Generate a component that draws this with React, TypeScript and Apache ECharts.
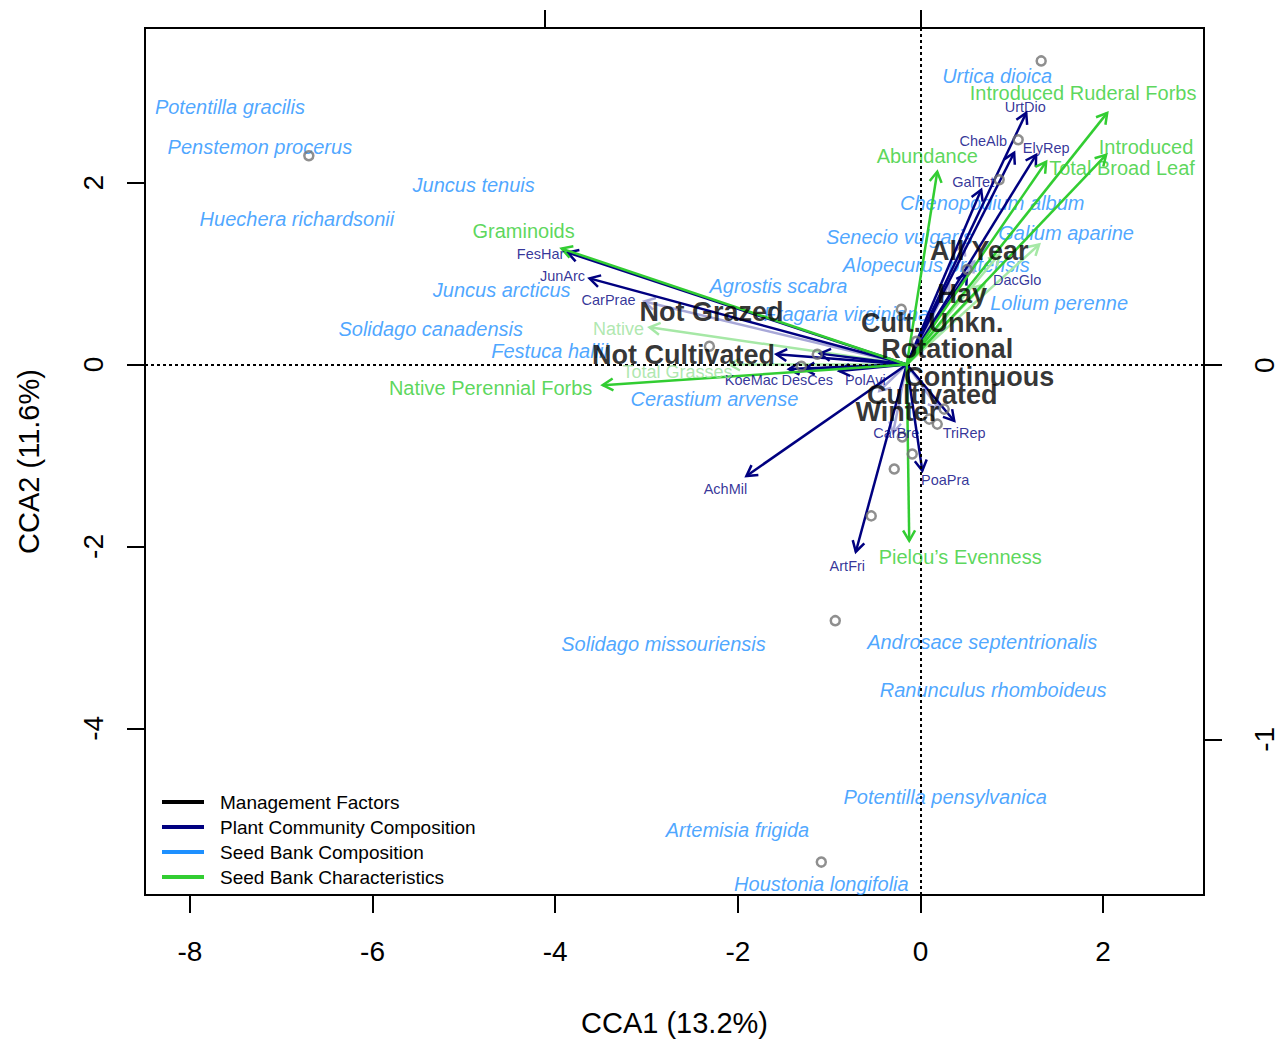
import React, { useEffect, useRef } from "react";
import * as echarts from "echarts";

// ---- axis ranges / ticks ----
const X_MIN = -8.492, X_MAX = 3.105;
const Y_MIN = -5.832, Y_MAX = 3.7;
const X_TICKS = [-8, -6, -4, -2, 0, 2];
const Y_TICKS = [-4, -2, 0, 2];
const X2_MIN = -2.064, X2_MAX = 0.755;
const X2_TICKS = [-1, 0];
const Y2_MIN = -1.416, Y2_MAX = 0.901;
const Y2_TICKS = [-1, 0];
const ARROW_ORIGIN = [-0.15, 0];

// ---- plant community composition (navy arrows) ----
const plantArrows = [
  [1.158, 2.767], [1.026, 2.328], [1.267, 2.306], [0.665, 1.922], [0.51, 1.0],
  [-3.864, 1.232], [-3.624, 0.947], [-1.578, 0.113], [-1.1, 0.12],
  [-1.44, -0.05], [-1.274, -0.05], [-0.89, -0.07],
  [-1.906, -1.225], [-0.708, -2.058], [0.02, -1.167], [0.37, -0.62],
];
const plantFaded = [
  [-3.023, 0.694], [0.479, 1.319], [0.588, 1.133], [0.315, 0.881],
  [-0.45, -0.29], [0.2, -0.49], [-0.3, -0.75],
];
const plantLabels = [
  [1.147, 2.833, "UrtDio"], [0.687, 2.46, "CheAlb"], [1.377, 2.383, "ElyRep"],
  [0.578, 2.01, "GalTet"], [1.059, 0.925, "DacGlo"], [-4.16, 1.21, "FesHar"],
  [-3.92, 0.969, "JunArc"], [-3.416, 0.706, "CarPrae"], [-1.851, -0.172, "KoeMac"],
  [-1.239, -0.172, "DesCes"], [-0.604, -0.172, "PolAvi"], [-2.136, -1.368, "AchMil"],
  [-0.801, -2.212, "ArtFri"], [0.271, -1.27, "PoaPra"], [0.479, -0.755, "TriRep"],
  [-0.265, -0.755, "CarBre"],
];

// ---- seed bank characteristics (green arrows) ----
const charArrows = [
  [2.045, 2.767], [2.033, 2.306], [1.376, 2.229], [0.184, 2.12],
  [-3.93, 1.275], [-3.48, -0.227], [-0.123, -1.938],
];
const charFaded = [
  [-2.967, 0.409], [-2.09, 0.0], [0.862, 1.21], [0.698, 0.88], [1.3, 1.32],
];
const charLabels = [
  [1.781, 2.986, "Introduced Ruderal Forbs"], [2.47, 2.394, "Introduced"],
  [2.207, 2.164, "Total Broad Leaf"], [0.074, 2.296, "Abundance"],
  [-4.346, 1.473, "Graminoids"], [-4.707, -0.26, "Native Perennial Forbs"],
  [0.435, -2.113, "Pielou\u2019s Evenness"],
];
const charFadedLabels = [
  [-3.306, 0.387, "Native"], [-2.66, -0.085, "Total Grasses"],
];

// ---- seed bank composition (blue species names) ----
const seedLabels = [
  [0.84, 3.173, "Urtica dioica"], [-7.562, 2.833, "Potentilla gracilis"],
  [-7.234, 2.393, "Penstemon procerus"], [-4.893, 1.977, "Juncus tenuis"],
  [-6.829, 1.604, "Huechera richardsonii"], [0.786, 1.78, "Chenopodium album"],
  [-0.232, 1.407, "Senecio vulgaris"], [1.595, 1.451, "Galium aparine"],
  [0.173, 1.089, "Alopecurus pratensis"], [-1.556, 0.859, "Agrostis scabra"],
  [-0.812, 0.552, "Fragaria virginiana"], [1.518, 0.672, "Lolium perenne"],
  [-4.586, 0.815, "Juncus arcticus"], [-5.363, 0.387, "Solidago canadensis"],
  [-4.061, 0.146, "Festuca hallii"], [-2.256, -0.381, "Cerastium arvense"],
  [-2.814, -3.068, "Solidago missouriensis"], [0.676, -3.046, "Androsace septentrionalis"],
  [0.796, -3.573, "Ranunculus rhomboideus"], [0.271, -4.757, "Potentilla pensylvanica"],
  [-2.004, -5.119, "Artemisia frigida"], [-1.085, -5.711, "Houstonia longifolia"],
];

// ---- management factors (bold black) ----
const mgmtLabels = [
  [0.643, 1.243, "All Year"], [0.457, 0.771, "Hay"], [-2.289, 0.574, "Not Grazed"],
  [0.129, 0.453, "Cult. Unkn."], [0.293, 0.168, "Rotational"],
  [-2.595, 0.102, "Not Cultivated"], [0.643, -0.139, "Continuous"],
  [0.129, -0.337, "Cultivated"], [-0.254, -0.523, "Winter"],
];

// ---- site scores (grey circles) ----
const sites = [
  [1.322, 3.338], [-6.698, 2.296], [1.07, 2.471], [0.862, 2.032], [0.512, 1.045],
  [-0.21, 0.607], [-0.046, 0.256], [-2.311, 0.201], [-1.13, 0.113], [-1.304, -0.019],
  [0.184, -0.655], [0.096, -0.6], [-0.199, -0.797], [-0.09, -0.984], [-0.287, -1.148],
  [-0.539, -1.664], [-0.933, -2.816], [-1.086, -5.47], [0.26, -0.49],
];

const legendItems = [
  ["Management Factors", "#000000"],
  ["Plant Community Composition", "#000080"],
  ["Seed Bank Composition", "#1E90FF"],
  ["Seed Bank Characteristics", "#32CD32"],
];

const FONT = "'Liberation Sans', Arial, Helvetica, sans-serif";

function arrowSeries(data: number[][], color: string, width: number, z: number) {
  return {
    type: "custom",
    coordinateSystem: "cartesian2d",
    xAxisIndex: 0,
    yAxisIndex: 0,
    silent: true,
    z,
    clip: false,
    data,
    renderItem: (params: any, api: any) => {
      const o = api.coord(ARROW_ORIGIN);
      const p = api.coord([api.value(0), api.value(1)]);
      const ang = Math.atan2(p[1] - o[1], p[0] - o[0]);
      const L = 12, A = Math.PI / 6;
      const h1 = [p[0] - L * Math.cos(ang - A), p[1] - L * Math.sin(ang - A)];
      const h2 = [p[0] - L * Math.cos(ang + A), p[1] - L * Math.sin(ang + A)];
      return {
        type: "group",
        children: [
          { type: "line", shape: { x1: o[0], y1: o[1], x2: p[0], y2: p[1] }, style: { stroke: color, lineWidth: width } },
          { type: "polyline", shape: { points: [h1, p, h2] }, style: { stroke: color, lineWidth: width, fill: null } },
        ],
      };
    },
  };
}

function labelSeries(data: any[], color: string, size: number, weight: string, style: string, z: number) {
  return {
    type: "scatter",
    xAxisIndex: 0,
    yAxisIndex: 0,
    silent: true,
    z,
    symbolSize: 1,
    itemStyle: { color: "rgba(0,0,0,0)" },
    data,
    label: {
      show: true,
      position: "inside",
      formatter: (p: any) => p.data[2],
      color,
      fontSize: size,
      fontWeight: weight,
      fontStyle: style,
      fontFamily: FONT,
    },
    emphasis: { disabled: true },
  };
}

export default function App() {
  const ref = useRef<HTMLDivElement>(null);
  useEffect(() => {
    if (!ref.current) return;
    const chart = echarts.init(ref.current, null, { renderer: "svg" });
    const tickLine = { show: true, length: 18, lineStyle: { color: "#000", width: 2 } };
    const axLine = { show: true, onZero: false, lineStyle: { color: "#000", width: 2 } };
    const legendGraphics: any[] = [];
    legendItems.forEach(([name, color], i) => {
      const y = 802 + i * 25;
      legendGraphics.push({ type: "line", shape: { x1: 162, y1: y, x2: 204, y2: y }, style: { stroke: color, lineWidth: 4 } });
      legendGraphics.push({ type: "text", x: 220, y, style: { text: name, fill: "#000", font: `19px ${FONT}`, verticalAlign: "middle" } });
    });
    const option: any = {
      animation: false,
      backgroundColor: "#ffffff",
      grid: { left: 145, right: 69, top: 28, bottom: 145, show: true, borderColor: "#000", borderWidth: 2, backgroundColor: "transparent" },
      xAxis: [
        {
          type: "value", position: "bottom", min: X_MIN, max: X_MAX,
          name: "CCA1 (13.2%)", nameLocation: "middle", nameGap: 113,
          nameTextStyle: { fontSize: 29, color: "#000", fontFamily: FONT },
          axisLine: axLine,
          axisTick: { ...tickLine, customValues: X_TICKS },
          axisLabel: { customValues: X_TICKS, fontSize: 28, color: "#000", fontFamily: FONT, margin: 42 },
          splitLine: { show: false },
        },
        {
          type: "value", position: "top", min: X2_MIN, max: X2_MAX,
          axisLine: axLine,
          axisTick: { ...tickLine, customValues: X2_TICKS },
          axisLabel: { show: false },
          splitLine: { show: false },
        },
      ],
      yAxis: [
        {
          type: "value", position: "left", min: Y_MIN, max: Y_MAX,
          name: "CCA2 (11.6%)", nameLocation: "middle", nameGap: 102,
          nameTextStyle: { fontSize: 29, color: "#000", fontFamily: FONT },
          axisLine: axLine,
          axisTick: { ...tickLine, customValues: Y_TICKS },
          axisLabel: { customValues: Y_TICKS, rotate: 90, fontSize: 28, color: "#000", fontFamily: FONT, margin: 38 },
          splitLine: { show: false },
        },
        {
          type: "value", position: "right", min: Y2_MIN, max: Y2_MAX,
          axisLine: axLine,
          axisTick: { ...tickLine, customValues: Y2_TICKS },
          axisLabel: { customValues: Y2_TICKS, rotate: 90, fontSize: 28, color: "#000", fontFamily: FONT, margin: 46 },
          splitLine: { show: false },
        },
      ],
      graphic: legendGraphics,
      series: [
        {
          type: "line", xAxisIndex: 0, yAxisIndex: 0, data: [], silent: true, z: 1,
          markLine: {
            silent: true, symbol: "none", animation: false,
            label: { show: false },
            lineStyle: { color: "#000", type: [3, 3], width: 2 },
            data: [{ xAxis: 0 }, { yAxis: 0 }],
          },
        },
        labelSeries(seedLabels, "#1E90FF", 20, "normal", "italic", 2),
        arrowSeries(plantFaded, "#a8a8d8", 2.5, 3),
        arrowSeries(charFaded, "#a6e8a6", 2.5, 3),
        arrowSeries(plantArrows, "#000080", 2.5, 4),
        arrowSeries(charArrows, "#32CD32", 2.5, 5),
        {
          type: "scatter", xAxisIndex: 0, yAxisIndex: 0, silent: true, z: 6,
          symbol: "circle", symbolSize: 9, data: sites,
          itemStyle: { color: "rgba(0,0,0,0)", borderColor: "#737373", borderWidth: 2.5 },
        },
        labelSeries(plantLabels, "#000080", 14.5, "normal", "normal", 7),
        labelSeries(charLabels, "#32CD32", 20, "normal", "normal", 7),
        labelSeries(charFadedLabels, "#9be29b", 18, "normal", "normal", 7),
        labelSeries(mgmtLabels, "#000000", 27, "bold", "normal", 8),
      ],
    };
    chart.setOption(option);
    return () => chart.dispose();
  }, []);
  return <div ref={ref} style={{ position: "absolute", left: 0, top: 0, width: 1278, height: 1042, background: "#fff" }} />;
}
